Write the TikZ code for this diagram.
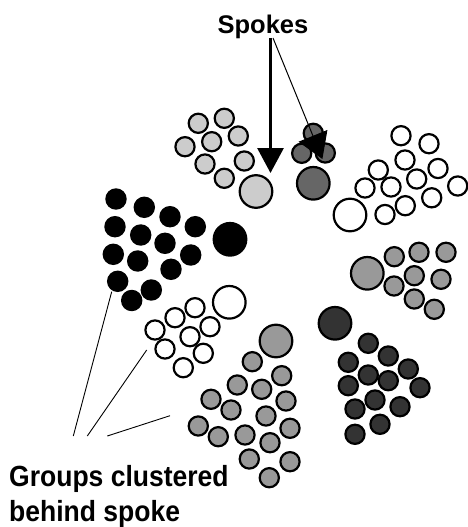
\documentclass[tikz,border=0pt]{standalone}
\usepackage{fontspec}
\setmainfont{Liberation Sans}
\usetikzlibrary{arrows.meta}
\definecolor{lg}{HTML}{CCCCCC}
\definecolor{mg}{HTML}{999999}
\definecolor{dg}{HTML}{666666}
\definecolor{vg}{HTML}{333333}
\tikzset{
  dot/.style={circle, draw=black, line width=2.2pt, minimum size=19.2pt, inner sep=0pt},
  bigdot/.style={dot, minimum size=32.6pt},
  lbl/.style={inner sep=0pt, font=\bfseries},
  pointer/.style={line width=0.9pt},
}
\begin{document}
\begin{tikzpicture}[x=1pt,y=-1pt]
\useasboundingbox (0,0) rectangle (468,527);
% light grey group
\foreach \x/\y [count=\i] in {198.3/123.3, 224.3/118.3, 185/146.7, 211.7/141.7, 238.3/136, 205/164, 244.3/161, 224.3/178.3}
  \node[dot, fill=lg] (lg\i) at (\x,\y) {};
\node[bigdot, fill=lg] (lgS) at (256,191.5) {};
% dark grey top group
\foreach \x/\y [count=\i] in {313.3/133.3, 301.7/153.3, 325.3/153}
  \node[dot, fill=dg] (dg\i) at (\x,\y) {};
\node[bigdot, fill=dg] (dgS) at (313.3,183.3) {};
% white top right group
\foreach \x/\y [count=\i] in {401/135.7, 429/143.7, 405/160, 438/168.5, 378.3/170, 416.7/179, 365/188, 391/187, 457.7/186, 431.7/197.8, 405.3/205.7, 385/214.5}
  \node[dot, fill=white] (wt\i) at (\x,\y) {};
\node[bigdot, fill=white] (wtS) at (350,215) {};
% black group
\foreach \x/\y [count=\i] in {116/199, 144.3/207.3, 170/216.7, 195.3/226.7, 115/226.7, 140.7/235, 165/243.3, 190.7/255, 113.3/254.3, 137.7/261, 171/269.3, 117.7/281.3, 151.3/290, 131.7/300.5}
  \node[dot, fill=black] (bk\i) at (\x,\y) {};
\node[bigdot, fill=black] (bkS) at (230,239.3) {};
% mid grey right group
\foreach \x/\y [count=\i] in {394.3/256.7, 419/252.3, 446/252.3, 414.3/275.7, 441/279.3, 394/286, 414.3/299, 434.3/309.3}
  \node[dot, fill=mg] (mr\i) at (\x,\y) {};
\node[bigdot, fill=mg] (mrS) at (367.3,273.3) {};
% white left group
\foreach \x/\y [count=\i] in {195/307.7, 175/317.7, 210/326.7, 155/330, 190/336.7, 165/349, 203.3/353.3, 183.3/367.7}
  \node[dot, fill=white] (wl\i) at (\x,\y) {};
\node[bigdot, fill=white] (wlS) at (229.3,302.3) {};
% very dark group
\foreach \x/\y [count=\i] in {368.3/343.3, 388.3/356, 348.3/362.3, 368.3/375, 408.3/369, 388.3/380.7, 348.3/385.7, 420/387.7, 375/400, 355/409, 400/406.7, 380/424.3, 355/434.3}
  \node[dot, fill=vg] (vg\i) at (\x,\y) {};
\node[bigdot, fill=vg] (vgS) at (335,323.3) {};
% mid grey bottom group
\foreach \x/\y [count=\i] in {252.3/361.7, 281.7/375.7, 237.3/385, 261.7/389.3, 211/399.3, 286/401, 231/410, 266/416, 198.3/426, 290/428.3, 218.3/436.7, 245/435, 270/442.7, 249.3/459, 290/461.7, 269.3/477.7}
  \node[dot, fill=mg] (mb\i) at (\x,\y) {};
\node[bigdot, fill=mg] (mbS) at (276,341) {};
% labels
\node[lbl, font=\bfseries\fontsize{25.5}{30}\selectfont, anchor=base] (spokes) at (263,33.3) {Spokes};
\node[lbl, font=\bfseries\fontsize{26.5}{30}\selectfont, anchor=base west] (groups1) at (9,486) {\scalebox{1}[1.1]{Groups clustered}};
\node[lbl, font=\bfseries\fontsize{26.5}{30}\selectfont, anchor=base west] (groups2) at (9,521.7) {\scalebox{1}[1.1]{behind spoke}};
% spokes arrows
\coordinate (a1s) at (270.5,38);
\coordinate (a1t) at (270.5,173);
\coordinate (a2s) at (273,38);
\coordinate (a2t) at (322.4,159);
\draw[line width=3pt, -{Triangle[length=25pt,width=26pt]}] (a1s) -- (a1t);
\draw[line width=1pt, -{Triangle[length=25pt,width=31pt]}] (a2s) -- (a2t);
% pointer lines
\coordinate (p1s) at (73.3,436);
\coordinate (p1e) at (111.7,291.7);
\coordinate (p2s) at (87.3,436);
\coordinate (p2e) at (146.7,350);
\coordinate (p3s) at (107.3,436);
\coordinate (p3e) at (170,415.7);
\draw[pointer] (p1s) -- (p1e);
\draw[pointer] (p2s) -- (p2e);
\draw[pointer] (p3s) -- (p3e);
\end{tikzpicture}
\end{document}
